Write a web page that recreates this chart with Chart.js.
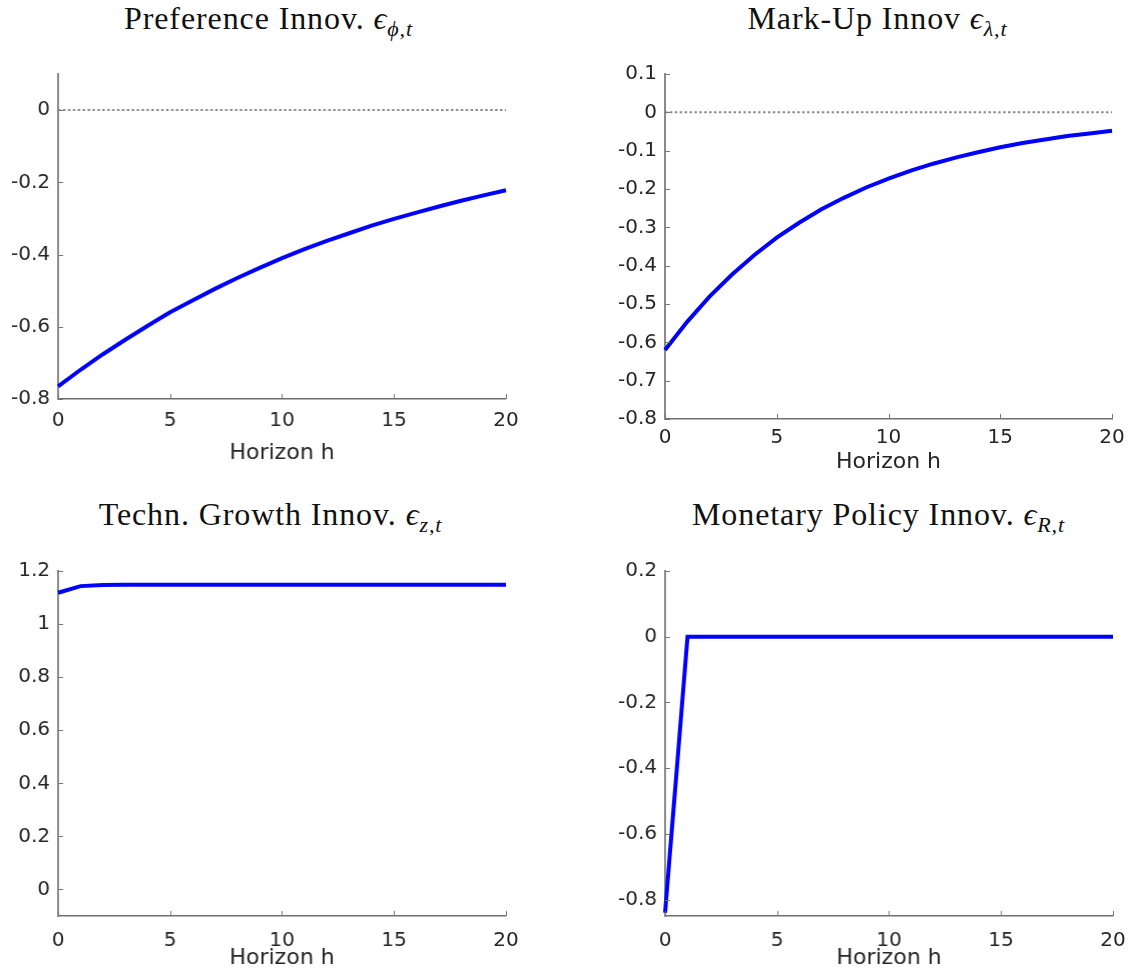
<!DOCTYPE html>
<html>
<head>
<meta charset="utf-8">
<script src="https://cdn.jsdelivr.net/npm/chart.js@4.4.0/dist/chart.umd.min.js"></script>
<style>
  body { margin: 0; background: #fff; width: 1133px; height: 974px; position: relative; overflow: hidden; }
  .panel { position: absolute; }
  .ttl { position: absolute; font-family: "Liberation Serif", "DejaVu Serif", serif; font-size: 32px; color: #111;
         text-align: center; white-space: nowrap; letter-spacing: 0.9px; }
  .ttl i { font-style: italic; }
  .ttl sub { font-size: 22px; font-style: italic; vertical-align: -7px; line-height: 0; }
</style>
</head>
<body>

<div class="ttl" style="left:45px; width:447px; top:0px;">Preference Innov. <i>ϵ</i><sub>ϕ,t</sub></div>
<div class="ttl" style="left:654px; width:447px; top:0px;">Mark-Up Innov <i>ϵ</i><sub>λ,t</sub></div>
<div class="ttl" style="left:47px; width:447px; top:496px;">Techn. Growth Innov. <i>ϵ</i><sub>z,t</sub></div>
<div class="ttl" style="left:655px; width:447px; top:496px;">Monetary Policy Innov. <i>ϵ</i><sub>R,t</sub></div>

<div class="panel" id="p1"><canvas id="c1"></canvas></div>
<div class="panel" id="p2"><canvas id="c2"></canvas></div>
<div class="panel" id="p3"><canvas id="c3"></canvas></div>
<div class="panel" id="p4"><canvas id="c4"></canvas></div>

<script>
// Impulse responses, horizon 0..20
const horizon = [0,1,2,3,4,5,6,7,8,9,10,11,12,13,14,15,16,17,18,19,20];

const prefIrf = [-0.765,-0.719,-0.676,-0.636,-0.597,-0.560,-0.527,-0.495,-0.465,-0.437,
                 -0.410,-0.385,-0.362,-0.341,-0.320,-0.301,-0.284,-0.267,-0.251,-0.236,-0.222];
const markupIrf = [-0.620,-0.546,-0.480,-0.423,-0.372,-0.327,-0.288,-0.253,-0.223,-0.196,
                   -0.173,-0.152,-0.134,-0.118,-0.104,-0.091,-0.080,-0.071,-0.062,-0.055,-0.048];
const techIrf = [1.118,1.143,1.147,1.148,1.148,1.148,1.148,1.148,1.148,1.148,
                 1.148,1.148,1.148,1.148,1.148,1.148,1.148,1.148,1.148,1.148,1.148];
const monIrf = [-0.84,0,0,0,0,0,0,0,0,0,0,0,0,0,0,0,0,0,0,0,0];

// tick labels
const xTicks = [0,5,10,15,20];
const yTicks1 = [-0.8,-0.6,-0.4,-0.2,0];
const yTicks2 = [-0.8,-0.7,-0.6,-0.5,-0.4,-0.3,-0.2,-0.1,0,0.1];
const yTicks3 = [0,0.2,0.4,0.6,0.8,1,1.2];
const yTicks4 = [-0.8,-0.6,-0.4,-0.2,0,0.2];

const AXIS = '#8a8a8a';
const TXT = '#262626';
const FONT = "'DejaVu Sans', sans-serif";

// matlab style ticks, pointing into the plot
const innerTicks = {
  id: 'innerTicks',
  afterDraw(chart) {
    const c = chart.ctx, a = chart.chartArea;
    const xs = chart.scales.x, ys = chart.scales.y;
    c.save();
    c.strokeStyle = '#777';
    c.lineWidth = 1;
    c.beginPath();
    xs.ticks.forEach(t => {
      const px = Math.round(xs.getPixelForValue(t.value)) + 0.5;
      c.moveTo(px, a.bottom); c.lineTo(px, a.bottom - 5);
    });
    ys.ticks.forEach(t => {
      const py = Math.round(ys.getPixelForValue(t.value)) + 0.5;
      c.moveTo(a.left, py); c.lineTo(a.left + 5, py);
    });
    c.stroke();
    c.restore();
  }
};

function makePanel(id, box, values, yMin, yMax, yTicks, zeroLine) {
  // box = wanted plot area on the page (l,t,r,b), x axis height, tick padding
  const yW = 58, padR = 20, padT = 14;
  const div = document.getElementById('p' + id);
  let w = yW + (box.r - box.l) + padR;
  let h = padT + (box.b - box.t) + box.xh;
  div.style.left = (box.l - yW) + 'px';
  div.style.top = (box.t - padT) + 'px';
  div.style.width = w + 'px';
  div.style.height = h + 'px';

  const datasets = [];
  if (zeroLine) {
    datasets.push({
      data: [{x: xTicks[0], y: 0}, {x: xTicks[xTicks.length - 1], y: 0}],
      borderColor: '#8c8c8c', borderWidth: 2, borderDash: [2.5, 2.4],
      pointRadius: 0, order: 2
    });
  }
  datasets.push({
    data: horizon.map((hh, i) => ({x: hh, y: values[i]})),
    borderColor: '#0000ff', borderWidth: 4, pointRadius: 0,
    tension: 0, clip: false, order: 1
  });

  const ch = new Chart(document.getElementById('c' + id), {
    type: 'line',
    data: { datasets: datasets },
    plugins: [innerTicks],
    options: {
      responsive: true, maintainAspectRatio: false, animation: false,
      layout: { padding: { top: padT, right: padR, left: 0, bottom: 0 } },
      plugins: { legend: { display: false }, tooltip: { enabled: false } },
      scales: {
        x: {
          type: 'linear', min: 0, max: 20,
          afterBuildTicks: s => { s.ticks = xTicks.map(v => ({value: v})); },
          afterFit: s => { s.height = box.xh; },
          grid: { display: true, drawOnChartArea: false, drawTicks: false },
          border: { display: true, color: '#6e6e6e', width: 1.5 },
          ticks: { color: TXT, font: { family: FONT, size: 20 }, padding: box.tp, maxRotation: 0 },
          title: { display: true, text: 'Horizon h', color: TXT, font: { family: FONT, size: 22 }, padding: 0 }
        },
        y: {
          type: 'linear', min: yMin, max: yMax,
          afterBuildTicks: s => { s.ticks = yTicks.map(v => ({value: v})); },
          afterFit: s => { s.width = yW; },
          grid: { display: true, drawOnChartArea: false, drawTicks: false },
          border: { display: true, color: AXIS, width: 2 },
          ticks: { color: TXT, font: { family: FONT, size: 20 }, padding: 8,
                   callback: v => String(Math.round(v * 10) / 10) }
        }
      }
    }
  });

  // the layout adds its own label overhang; shift/grow the canvas so the plot area lands on box
  const a = ch.chartArea;
  const extraTop = a.top - padT;
  const extraRight = (yW + (box.r - box.l)) - a.right;
  if (extraTop || extraRight) {
    div.style.top = (box.t - a.top) + 'px';
    div.style.height = (h + extraTop) + 'px';
    div.style.width = (w + extraRight) + 'px';
    ch.resize();
  }
}

makePanel(1, {l: 58, t: 74, r: 505, b: 399, xh: 67, tp: 10}, prefIrf, -0.8, 0.1, yTicks1, true);
makePanel(2, {l: 665, t: 74, r: 1112, b: 419, xh: 56, tp: 7}, markupIrf, -0.8, 0.1, yTicks2, true);
makePanel(3, {l: 58, t: 571, r: 505, b: 916, xh: 55, tp: 13}, techIrf, -0.1, 1.2, yTicks3, false);
makePanel(4, {l: 665, t: 571, r: 1112, b: 916, xh: 55, tp: 13}, monIrf, -0.85, 0.2, yTicks4, false);
</script>
</body>
</html>
